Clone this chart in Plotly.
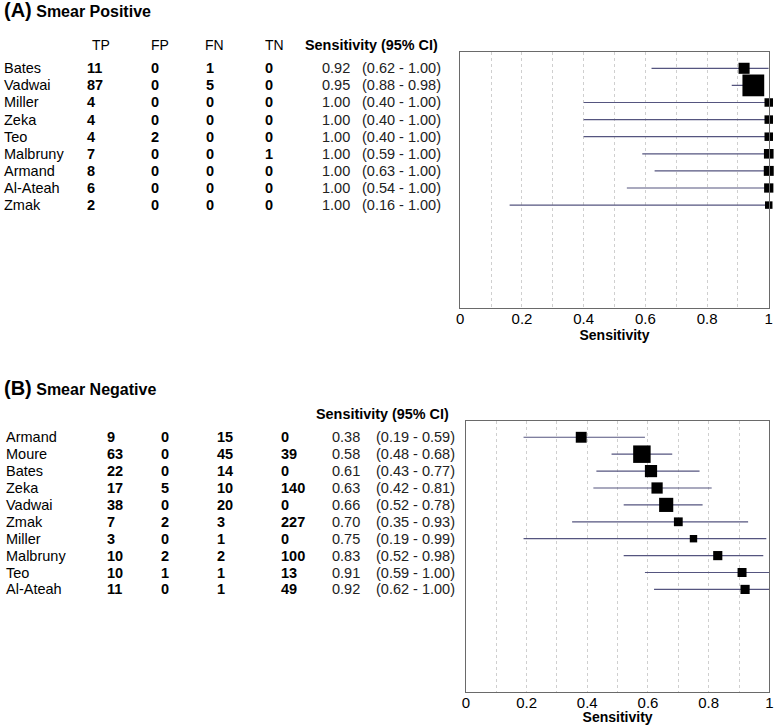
import math

import plotly.graph_objects as go

# ---- data ----
pos_studies = ["Bates", "Vadwai", "Miller", "Zeka", "Teo", "Malbruny", "Armand", "Al-Ateah", "Zmak"]
pos_tp = [11, 87, 4, 4, 4, 7, 8, 6, 2]
pos_fp = [0, 0, 0, 0, 2, 0, 0, 0, 0]
pos_fn = [1, 5, 0, 0, 0, 0, 0, 0, 0]
pos_tn = [0, 0, 0, 0, 0, 1, 0, 0, 0]
pos_sens = [0.92, 0.95, 1.00, 1.00, 1.00, 1.00, 1.00, 1.00, 1.00]
pos_lo = [0.62, 0.88, 0.40, 0.40, 0.40, 0.59, 0.63, 0.54, 0.16]
pos_hi = [1.00, 0.98, 1.00, 1.00, 1.00, 1.00, 1.00, 1.00, 1.00]

neg_studies = ["Armand", "Moure", "Bates", "Zeka", "Vadwai", "Zmak", "Miller", "Malbruny", "Teo", "Al-Ateah"]
neg_tp = [9, 63, 22, 17, 38, 7, 3, 10, 10, 11]
neg_fp = [0, 0, 0, 5, 0, 2, 0, 2, 1, 0]
neg_fn = [15, 45, 14, 10, 20, 3, 1, 2, 1, 1]
neg_tn = [0, 39, 0, 140, 0, 227, 0, 100, 13, 49]
neg_sens = [0.38, 0.58, 0.61, 0.63, 0.66, 0.70, 0.75, 0.83, 0.91, 0.92]
neg_lo = [0.19, 0.48, 0.43, 0.42, 0.52, 0.35, 0.19, 0.52, 0.59, 0.62]
neg_hi = [0.59, 0.68, 0.77, 0.81, 0.78, 0.93, 0.99, 0.98, 1.00, 1.00]

tick_vals = [0, 0.1, 0.2, 0.3, 0.4, 0.5, 0.6, 0.7, 0.8, 0.9, 1.0]
tick_text = ["0", "", "0.2", "", "0.4", "", "0.6", "", "0.8", "", "1"]

W, H = 778, 725
FONT = "Liberation Sans, Arial, sans-serif"
CI_COLOR = "#55557f"
TXT = 14.5


def px_x(p):
    return p / W


def px_y(p):
    return 1 - p / H


fig = go.Figure()
annotations = []


def note(**kw):
    kw.setdefault("showarrow", False)
    kw.setdefault("borderpad", 0)
    kw.setdefault("borderwidth", 0)
    annotations.append(kw)


def add_panel(studies, tp, fp, fn, tn, sens, lo, hi, xa, ya, size_k, cols, header_cols, title, title_y):
    n = [a + b for a, b in zip(tp, fn)]
    sizes = [5 + size_k * math.sqrt(v) for v in n]
    rows = list(range(len(studies)))
    fig.add_trace(go.Scatter(
        x=sens, y=rows, mode="markers",
        xaxis=xa, yaxis=ya,
        marker=dict(symbol="square", color="black", size=sizes, opacity=1,
                    line=dict(width=0)),
        error_x=dict(type="data", symmetric=False,
                     array=[h - s for h, s in zip(hi, sens)],
                     arrayminus=[s - l for s, l in zip(sens, lo)],
                     color=CI_COLOR, thickness=1.2, width=0),
        cliponaxis=False, showlegend=False, hoverinfo="skip",
    ))
    name_x, tp_x, fp_x, fn_x, tn_x, sens_x, ci_x = cols
    for i, s in enumerate(studies):
        base = dict(yref=ya, xref="paper", y=i, yanchor="middle")
        note(**base, x=px_x(name_x), xanchor="left", text=s,
             font=dict(size=TXT, color="black", family=FONT))
        for xx, v in ((tp_x, tp[i]), (fp_x, fp[i]), (fn_x, fn[i]), (tn_x, tn[i])):
            note(**base, x=px_x(xx), xanchor="left", text=f"<b>{v}</b>",
                 font=dict(size=TXT, color="black", family=FONT))
        note(**base, x=px_x(sens_x), xanchor="right", text=f"{sens[i]:.2f}",
             font=dict(size=TXT, color="#222", family=FONT))
        note(**base, x=px_x(ci_x), xanchor="left", text=f"({lo[i]:.2f} - {hi[i]:.2f})",
             font=dict(size=TXT, color="#222", family=FONT))
    hdr_y, hdrs = header_cols
    for text, xx, anchor in hdrs:
        note(xref="paper", yref="paper", x=px_x(xx), y=px_y(hdr_y),
             xanchor=anchor, yanchor="middle",
             text=f"<b>{text}</b>" if "Sens" in text else text,
             font=dict(size=14.4 if "Sens" in text else 14, color="black", family=FONT))
    note(xref="paper", yref="paper", x=0, y=px_y(title_y),
         xanchor="left", yanchor="middle",
         text=title, font=dict(size=16, color="black", family=FONT))


add_panel(pos_studies, pos_tp, pos_fp, pos_fn, pos_tn, pos_sens, pos_lo, pos_hi,
          "x", "y", 1.75,
          (0, 84, 149, 204, 264, 350, 362),
          (45, [("TP", 98, "center"), ("FP", 158, "center"), ("FN", 213, "center"),
                ("TN", 273, "center"), ("Sensitivity (95% CI)", 304, "left")]),
          "<b><span style='font-size:20px'>(A)</span> Smear Positive</b>", 10)

add_panel(neg_studies, neg_tp, neg_fp, neg_fn, neg_tn, neg_sens, neg_lo, neg_hi,
          "x2", "y2", 1.2,
          (2, 104, 159, 215, 280, 360, 376),
          (414, [("Sensitivity (95% CI)", 315, "left")]),
          "<b><span style='font-size:20px'>(B)</span> Smear Negative</b>", 388)

xaxis_common = dict(
    range=[0, 1], tickvals=tick_vals, ticktext=tick_text,
    showgrid=True, gridcolor="#cfcfcf", griddash="dot", gridwidth=1,
    showline=True, mirror=True, linecolor="#6a6a6a", linewidth=1,
    ticks="", zeroline=False, ticklabelstandoff=-3,
    tickfont=dict(size=15, color="black", family=FONT),
    title=dict(text="<b>Sensitivity</b>", font=dict(size=14, color="black", family=FONT), standoff=0),
)
yaxis_common = dict(showgrid=False, zeroline=False, showticklabels=False,
                    showline=True, mirror=True, linecolor="#6a6a6a", linewidth=1, ticks="")

fig.update_layout(
    width=W, height=H,
    margin=dict(l=0, r=0, t=0, b=0),
    paper_bgcolor="white", plot_bgcolor="white",
    font=dict(family=FONT),
    xaxis=dict(xaxis_common, domain=[px_x(461), px_x(772.7)], anchor="y"),
    yaxis=dict(yaxis_common, domain=[px_y(307.7), px_y(51.7)], range=[14.0, -0.97], anchor="x"),
    xaxis2=dict(xaxis_common, domain=[px_x(466.7), px_x(773.3)], anchor="y2"),
    yaxis2=dict(yaxis_common, domain=[px_y(691.7), px_y(420.7)], range=[15.05, -0.98], anchor="x2"),
    annotations=annotations,
)

# drop the page's default body margin so the figure sits at the window origin
fig.write_html("out.html", config={"displayModeBar": False},
               post_script="document.body.style.margin='0';")
